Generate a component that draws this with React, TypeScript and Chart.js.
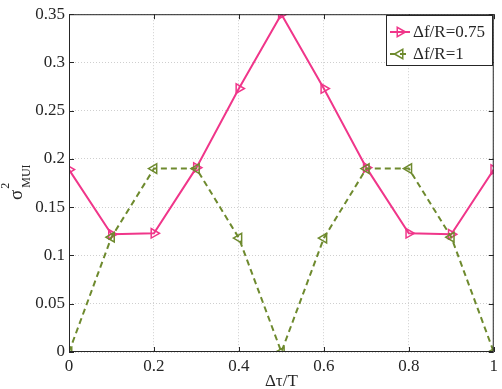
import React, { useEffect, useRef } from 'react';
import { Chart, registerables } from 'chart.js';

Chart.register(...registerables);

const xValues = [0, 0.1, 0.2, 0.3, 0.4, 0.5, 0.6, 0.7, 0.8, 0.9, 1];
const seriesA = [0.189, 0.122, 0.123, 0.191, 0.273, 0.35, 0.273, 0.191, 0.123, 0.122, 0.189];
const seriesB = [0, 0.119, 0.19, 0.19, 0.118, 0, 0.118, 0.19, 0.19, 0.119, 0];
const seriesLabels = ['Δf/R=0.75', 'Δf/R=1'];
const seriesColors = ['#f0368a', '#6e8a2e'];
const xTicks = [0, 0.2, 0.4, 0.6, 0.8, 1];
const xTickLabels = ['0', '0.2', '0.4', '0.6', '0.8', '1'];
const yTicks = [0, 0.05, 0.1, 0.15, 0.2, 0.25, 0.3, 0.35];
const yTickLabels = ['0', '0.05', '0.1', '0.15', '0.2', '0.25', '0.3', '0.35'];
const xTitle = 'Δτ/T';
const yTitleMain = 'σ';
const yTitleSup = '2';
const yTitleSub = 'MUI';

const FONT = "'Liberation Serif', 'Times New Roman', serif";
const INK = '#262626';

function drawTri(ctx: CanvasRenderingContext2D, x: number, y: number, r: number, dir: number, color: string) {
  ctx.save();
  ctx.translate(x, y);
  ctx.rotate(dir);
  ctx.beginPath();
  ctx.moveTo(r, 0);
  ctx.lineTo(-r * 0.5, -r * 0.866);
  ctx.lineTo(-r * 0.5, r * 0.866);
  ctx.closePath();
  ctx.strokeStyle = color;
  ctx.lineWidth = 1.5;
  ctx.stroke();
  ctx.restore();
}

const decorPlugin = {
  id: 'decor',
  afterDraw(chart: any) {
    const { ctx, chartArea } = chart;
    const { left, right, top, bottom } = chartArea;
    const xs = chart.scales.x;
    const ys = chart.scales.y;
    ctx.save();
    ctx.strokeStyle = INK;
    ctx.lineWidth = 1;
    ctx.setLineDash([]);
    ctx.strokeRect(left + 0.5, top + 0.5, right - left - 1, bottom - top - 1);
    const tl = 5;
    ctx.beginPath();
    xTicks.forEach((v) => {
      const px = Math.round(xs.getPixelForValue(v)) + 0.5;
      ctx.moveTo(px, bottom);
      ctx.lineTo(px, bottom - tl);
      ctx.moveTo(px, top);
      ctx.lineTo(px, top + tl);
    });
    yTicks.forEach((v) => {
      const py = Math.round(ys.getPixelForValue(v)) + 0.5;
      ctx.moveTo(left, py);
      ctx.lineTo(left + tl, py);
      ctx.moveTo(right, py);
      ctx.lineTo(right - tl, py);
    });
    ctx.stroke();

    ctx.fillStyle = INK;
    ctx.font = `17px ${FONT}`;
    ctx.textAlign = 'center';
    ctx.textBaseline = 'alphabetic';
    ctx.fillText(xTitle, (left + right) / 2, 386);

    ctx.save();
    ctx.translate(22, 200);
    ctx.rotate(-Math.PI / 2);
    ctx.textAlign = 'left';
    ctx.font = `19px ${FONT}`;
    ctx.fillText(yTitleMain, 0, 0);
    const w = ctx.measureText(yTitleMain).width;
    ctx.font = `12px ${FONT}`;
    ctx.fillText(yTitleSub, w + 2, 8);
    ctx.fillText(yTitleSup, w + 1, -13);
    ctx.restore();

    const bx = 386, by = 15, bw = 106, bh = 50;
    ctx.fillStyle = '#ffffff';
    ctx.fillRect(bx, by, bw, bh);
    ctx.strokeStyle = INK;
    ctx.lineWidth = 1;
    ctx.strokeRect(bx + 0.5, by + 0.5, bw, bh);
    const rows = [32, 54];
    seriesLabels.forEach((lab, i) => {
      const y = rows[i];
      ctx.strokeStyle = seriesColors[i];
      ctx.lineWidth = 2;
      ctx.setLineDash(i === 1 ? [6, 4] : []);
      ctx.beginPath();
      ctx.moveTo(390, y);
      ctx.lineTo(410, y);
      ctx.stroke();
      ctx.setLineDash([]);
      drawTri(ctx, 400, y, 5.5, i === 0 ? 0 : Math.PI, seriesColors[i]);
      ctx.fillStyle = INK;
      ctx.font = `17px ${FONT}`;
      ctx.textAlign = 'left';
      ctx.textBaseline = 'middle';
      ctx.fillText(lab, 413, y + 1);
    });
    ctx.restore();
  },
};

export default function App() {
  const ref = useRef<HTMLCanvasElement | null>(null);
  useEffect(() => {
    document.body.style.margin = '0';
    const canvas = ref.current;
    if (!canvas) return;
    const chart = new Chart(canvas, {
      type: 'line',
      data: {
        datasets: [
          {
            label: seriesLabels[0],
            data: xValues.map((x, i) => ({ x, y: seriesA[i] })),
            borderColor: seriesColors[0],
            backgroundColor: 'rgba(0,0,0,0)',
            borderWidth: 2,
            pointStyle: 'triangle',
            rotation: 90,
            pointRadius: 5.5,
            pointBorderWidth: 1.5,
            pointBorderColor: seriesColors[0],
            pointBackgroundColor: 'rgba(0,0,0,0)',
            tension: 0,
            order: 2,
          },
          {
            label: seriesLabels[1],
            data: xValues.map((x, i) => ({ x, y: seriesB[i] })),
            borderColor: seriesColors[1],
            backgroundColor: 'rgba(0,0,0,0)',
            borderWidth: 2,
            borderDash: [6, 4],
            pointStyle: 'triangle',
            rotation: -90,
            pointRadius: 5.5,
            pointBorderWidth: 1.5,
            pointBorderColor: seriesColors[1],
            pointBackgroundColor: 'rgba(0,0,0,0)',
            tension: 0,
            order: 1,
          },
        ],
      },
      options: {
        animation: false,
        responsive: false,
        layout: { padding: { top: 14, right: 7, left: 0, bottom: 0 } },
        plugins: { legend: { display: false }, tooltip: { enabled: false } },
        scales: {
          x: {
            type: 'linear',
            min: 0,
            max: 1,
            afterBuildTicks: (s: any) => {
              s.ticks = xTicks.map((v) => ({ value: v }));
            },
            afterFit: (s: any) => {
              s.height = 37;
            },
            ticks: {
              padding: 4,
              color: INK,
              font: { family: FONT, size: 17 },
              maxRotation: 0,
              autoSkip: false,
              callback: (_v: any, i: number) => xTickLabels[i],
            },
            grid: { color: '#cfcfcf', lineWidth: 1, drawTicks: false },
            border: { display: false, dash: [1, 2] },
          },
          y: {
            type: 'linear',
            min: 0,
            max: 0.35,
            afterBuildTicks: (s: any) => {
              s.ticks = yTicks.map((v) => ({ value: v }));
            },
            afterFit: (s: any) => {
              s.width = 69;
            },
            ticks: {
              padding: 4,
              color: INK,
              font: { family: FONT, size: 17 },
              autoSkip: false,
              callback: (_v: any, i: number) => yTickLabels[i],
            },
            grid: { color: '#cfcfcf', lineWidth: 1, drawTicks: false },
            border: { display: false, dash: [1, 2] },
          },
        },
      },
      plugins: [decorPlugin],
    });
    return () => chart.destroy();
  }, []);
  return (
    <div style={{ position: 'fixed', left: 0, top: 0, width: 502, height: 389, background: '#fff' }}>
      <canvas ref={ref} width={502} height={389} style={{ display: 'block' }} />
    </div>
  );
}
